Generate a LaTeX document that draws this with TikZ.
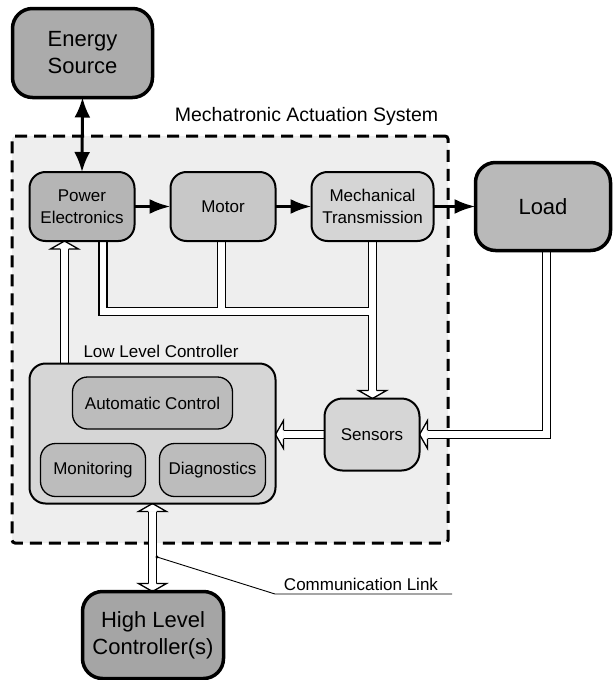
\documentclass[tikz,border=0pt]{standalone}
\usepackage{fontspec}
\setmainfont{Liberation Sans}
\usetikzlibrary{calc,arrows.meta}
\pgfdeclarelayer{back}
\pgfdeclarelayer{mid}
\pgfsetlayers{back,mid,main}
\definecolor{cEs}{HTML}{ABABAB}
\definecolor{cPe}{HTML}{B5B5B5}
\definecolor{cMo}{HTML}{C8C8C8}
\definecolor{cMt}{HTML}{D5D5D5}
\definecolor{cLd}{HTML}{B9B9B9}
\definecolor{cLlc}{HTML}{D6D6D6}
\definecolor{cIn}{HTML}{BCBCBC}
\definecolor{cSen}{HTML}{D6D6D6}
\definecolor{cHlc}{HTML}{A5A5A5}
\definecolor{cSys}{HTML}{EEEEEE}
\newcommand{\bigfnt}{\fontsize{22}{27}\selectfont}
\newcommand{\smfnt}{\fontsize{17}{22}\selectfont}
\newcommand{\pipehead}[2]{%
  \filldraw[fill=white,draw=black,line width=1.3pt,line join=miter,shift={#1},rotate=#2]
    (-8,-4.1) -- (-8,-14) -- (0,0) -- (-8,14) -- (-8,4.1);}
\newcommand{\pipepaths}[1]{%
  \draw[#1,shorten >=8pt] (llc.north -| xa) -- (pe.south -| xa);
  \draw[#1] (pe.south -| xb) -- (xb |- ym) -- (xd |- ym);
  \draw[#1] (mo.south -| xc) -- (xc |- ym);
  \draw[#1,shorten >=8pt] (mt.south -| xd) -- (sen.north -| xd);
  \draw[#1,shorten >=8pt] (ld.south -| xe) -- (xe |- sen.east) -- (sen.east);
  \draw[#1,shorten >=8pt] (sen.west) -- (llc.east |- sen.west);
  \draw[#1,shorten >=8pt,shorten <=8pt] (llc.south -| xf) -- (hlc.north -| xf);}
\begin{document}
\begin{tikzpicture}[x=1pt,y=-1pt,
  bigbox/.style={draw,line width=3.5pt,rounded corners=20pt,align=center,font=\bigfnt,inner sep=0pt,outer sep=0pt},
  midbox/.style={draw,line width=2pt,rounded corners=16pt,align=center,font=\smfnt,inner sep=0pt,outer sep=0pt},
  inbox/.style={draw,line width=1.3pt,rounded corners=15pt,align=center,font=\smfnt,inner sep=0pt,outer sep=0pt},
  flowarrow/.style={line width=3pt,-{Latex[length=21pt,width=15pt]}},
  pipeout/.style={line width=9.5pt,black,line join=miter},
  pipein/.style={line width=6.9pt,white,line join=miter},
  lbl/.style={inner sep=0pt,font=\smfnt}]
\useasboundingbox (0,0) rectangle (613,680);
% system frame
\begin{pgfonlayer}{back}
\node (sys) [draw,fill=cSys,line width=3pt,dash pattern=on 12pt off 7pt,rounded corners=3pt,
  minimum width=436pt,minimum height=407pt,inner sep=0pt] at (230,339.5) {};
\end{pgfonlayer}
\node (systxt) [lbl,font=\fontsize{19.5}{22}\selectfont] at (306.5,116) {Mechatronic Actuation System};
% blocks
\node (es) [bigbox,fill=cEs,minimum width=140pt,minimum height=89pt] at (82.5,53) {Energy\\Source};
\node (pe) [midbox,fill=cPe,minimum width=105pt,minimum height=69pt] at (82,206.5) {Power\\Electronics};
\node (mo) [midbox,fill=cMo,minimum width=105pt,minimum height=69pt] at (223,206.5) {Motor};
\node (mt) [midbox,fill=cMt,minimum width=122pt,minimum height=69pt] at (372.5,206.5) {Mechanical\\Transmission};
\node (ld) [bigbox,fill=cLd,minimum width=135pt,minimum height=88pt] at (543,206.5) {Load};
\node (llc) [midbox,fill=cLlc,minimum width=246pt,minimum height=140pt] at (152.5,433.5) {};
\node (llctxt) [lbl,anchor=base] at (161,357) {Low Level Controller};
\node (ac) [inbox,fill=cIn,minimum width=160pt,minimum height=52pt] at (152.5,403) {Automatic Control};
\node (mon) [inbox,fill=cIn,minimum width=105pt,minimum height=53pt] at (93,470) {Monitoring};
\node (dia) [inbox,fill=cIn,minimum width=106pt,minimum height=53pt] at (212.5,470) {Diagnostics};
\node (sen) [midbox,fill=cSen,minimum width=95pt,minimum height=72pt,rounded corners=18pt] at (372,434.5) {Sensors};
\node (hlc) [bigbox,fill=cHlc,minimum width=141pt,minimum height=87pt] at (153,635) {High Level\\Controller(s)};
% pipe x/y guides
\coordinate (xa) at (64.5,0);
\coordinate (xb) at (103,0);
\coordinate (xc) at (221.5,0);
\coordinate (xd) at (372.5,0);
\coordinate (xe) at (546.5,0);
\coordinate (xf) at (152.5,0);
\coordinate (ym) at (0,311.5);
% pipes
\begin{pgfonlayer}{mid}
\pipepaths{pipeout}
\pipepaths{pipein}
\pipehead{(pe.south -| xa)}{90}
\pipehead{(sen.north -| xd)}{-90}
\pipehead{(sen.east)}{180}
\pipehead{(llc.east |- sen.west)}{180}
\pipehead{(llc.south -| xf)}{90}
\pipehead{(hlc.north -| xf)}{-90}
\end{pgfonlayer}
% solid arrows
\draw[line width=3pt,{Latex[length=20pt,width=16pt]}-{Latex[length=20pt,width=16pt]}] (es.south) -- (pe.north);
\draw[flowarrow] (pe.east) -- (mo.west);
\draw[flowarrow] (mo.east) -- (mt.west);
\draw[flowarrow] (mt.east) -- (ld.west);
% communication link
\coordinate (cldot) at (157,557);
\coordinate (clbend) at (275,594);
\coordinate (clend) at (452,594);
\fill (cldot) circle (1.7);
\draw[line width=0.9pt] (cldot) -- (clbend) -- (clend);
\node (cltxt) [lbl,anchor=base] at (361,590) {Communication Link};
\end{tikzpicture}
\end{document}
